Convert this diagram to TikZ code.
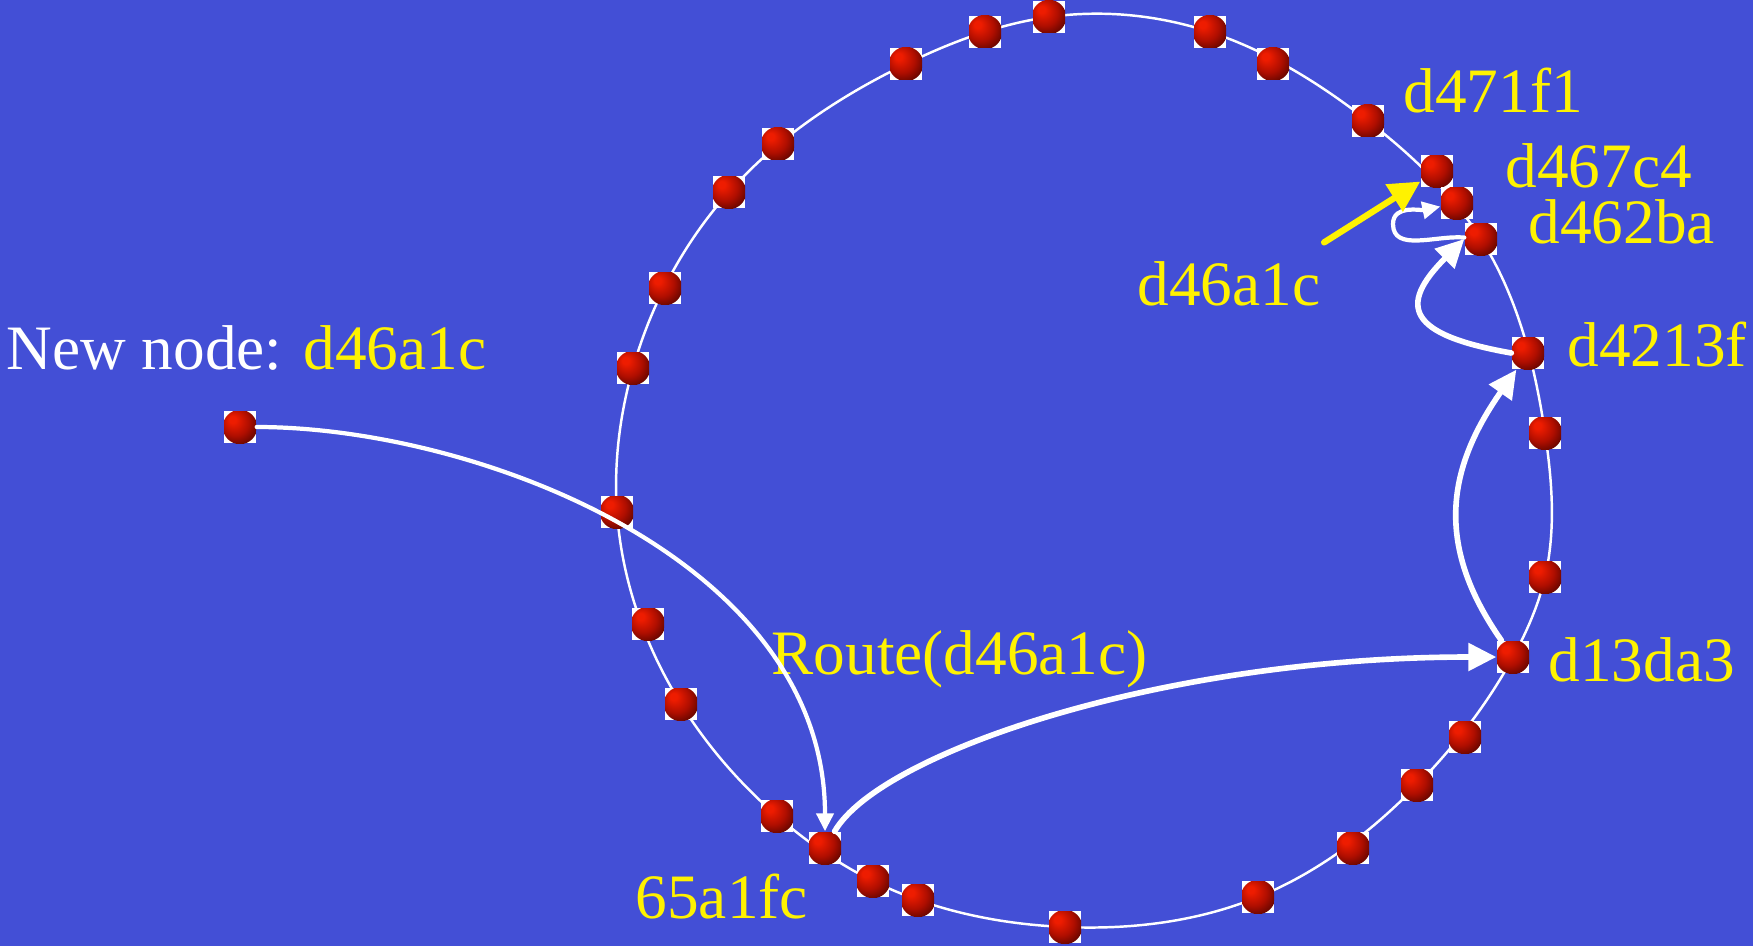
\documentclass[tikz,border=0pt]{standalone}
\usepackage{fontspec}
\setmainfont{Liberation Serif}
\usetikzlibrary{arrows.meta,backgrounds,hobby}

\definecolor{slide}{RGB}{67,79,214}
\definecolor{ballhi}{RGB}{238,28,0}
\definecolor{ballmid}{RGB}{175,14,0}
\definecolor{balldark}{RGB}{85,4,0}

% red ball used for every peer on the ring
\pgfdeclareradialshading{peerball}{\pgfpoint{-12bp}{12bp}}{%
  color(0bp)=(ballhi); color(5bp)=(ballhi); color(20bp)=(ballmid);
  color(34bp)=(balldark); color(46bp)=(black); color(50bp)=(black)}

\tikzset{
  peer/.style={rectangle, fill=white, minimum size=3.2mm, inner sep=0pt,
    path picture={\shade[shading=peerball] (path picture bounding box.center) circle (1.72mm);}},
  lbl/.style={text=yellow, font=\fontsize{18}{22}\selectfont, inner sep=0pt, anchor=base west},
}

\begin{document}
\begin{tikzpicture}[line cap=round,
  ring/.style={white, line width=0.7pt},
  hop/.style={white, line width=1.2pt, -{Triangle[length=1.8mm,width=1.7mm]}},
  bighop/.style={white, line width=1.6pt, -{Triangle[length=2.8mm,width=2.7mm]}},
  newarrow/.style={yellow, line width=1.8pt, -{Triangle[length=3.1mm,width=3.1mm]}}
]
\useasboundingbox (0,0) rectangle (17.53,9.46);

%--- Peers on the ring (clockwise from the top) ---
\foreach \x/\y [count=\i] in {10.49/9.29, 12.10/9.14, 12.73/8.82,
    15.45/5.13, 15.45/3.69, 14.65/2.09, 14.17/1.61, 13.53/0.98,
    12.58/0.49, 10.65/0.19, 9.18/0.46, 8.73/0.65, 7.77/1.30,
    6.81/2.42, 6.48/3.22, 6.17/4.34, 6.33/5.78, 6.65/6.58,
    7.29/7.54, 7.78/8.02, 9.06/8.82, 9.85/9.14}
  \node[peer] (p\i) at (\x,\y) {};

% peers that get a label
\node[peer] (n471f1)  at (13.68,8.25) {};
\node[peer] (n46a1c)  at (14.37,7.75) {};
\node[peer] (n467c4)  at (14.57,7.43) {};
\node[peer] (n462ba)  at (14.81,7.07) {};
\node[peer] (n4213f)  at (15.28,5.93) {};
\node[peer] (n13da3)  at (15.13,2.89) {};
\node[peer] (n65a1fc) at (8.25,0.98) {};

% the joining node, off the ring
\node[peer] (newnode) at (2.40,5.19) {};

%--- Background and ring (Hobby curve through every other peer) ---
\begin{scope}[on background layer]
  \fill[slide] (0,0) rectangle (17.53,9.46);
  \draw[ring, use Hobby shortcut, closed=true]
    (p1.center) .. (p2.center) .. (n471f1.center) .. (n462ba.center) ..
    (p4.center) .. (p5.center) .. (n13da3.center) .. (p7.center) ..
    (p9.center) .. (p10.center) .. (p12.center) .. (p13.center) ..
    (p14.center) .. (p16.center) .. (p17.center) .. (p19.center) ..
    (p21.center);
\end{scope}

%--- Labels ---
\node[lbl, text=white] (newlbl) at (0.06,5.77) {New node: \textcolor{yellow}{d46a1c}};
\node[lbl] (lbl471f1)  at (14.03,8.33) {d471f1};
\node[lbl] (lbl467c4)  at (15.05,7.59) {d467c4};
\node[lbl] (lbl462ba)  at (15.28,7.03) {d462ba};
\node[lbl] (lbl46a1c)  at (11.37,6.41) {d46a1c};
\node[lbl] (lbl4213f)  at (15.67,5.80) {d4213f};
\node[lbl] (lbl13da3)  at (15.48,2.65) {d13da3};
\node[lbl] (lblroute)  at (7.71,2.72) {Route(d46a1c)};
\node[lbl] (lbl65a1fc) at (6.35,0.28) {65a1fc};

%--- Route of the join request ---
\coordinate (loopturn) at (13.93,7.22);
\draw[hop] (newnode) to[out=0, in=90, out looseness=0.8] (n65a1fc);
\draw[bighop] (n65a1fc.60) .. controls +(60:0.9) and +(-3.35,0) .. (n13da3.west);
\draw[bighop] (n13da3) to[out=125, in=235, looseness=1.12] (n4213f);
\draw[bighop] (n4213f.west) .. controls +(170:1.05) and +(225:0.95) .. (n462ba.west);
\draw[hop] (n462ba) to[out=175, in=-90] (loopturn) to[out=90, in=192] (n467c4);

% where the new node lands
\draw[newarrow] ([shift={(0.03,0.18)}]lbl46a1c.north east) -- (n46a1c);

\end{tikzpicture}
\end{document}
